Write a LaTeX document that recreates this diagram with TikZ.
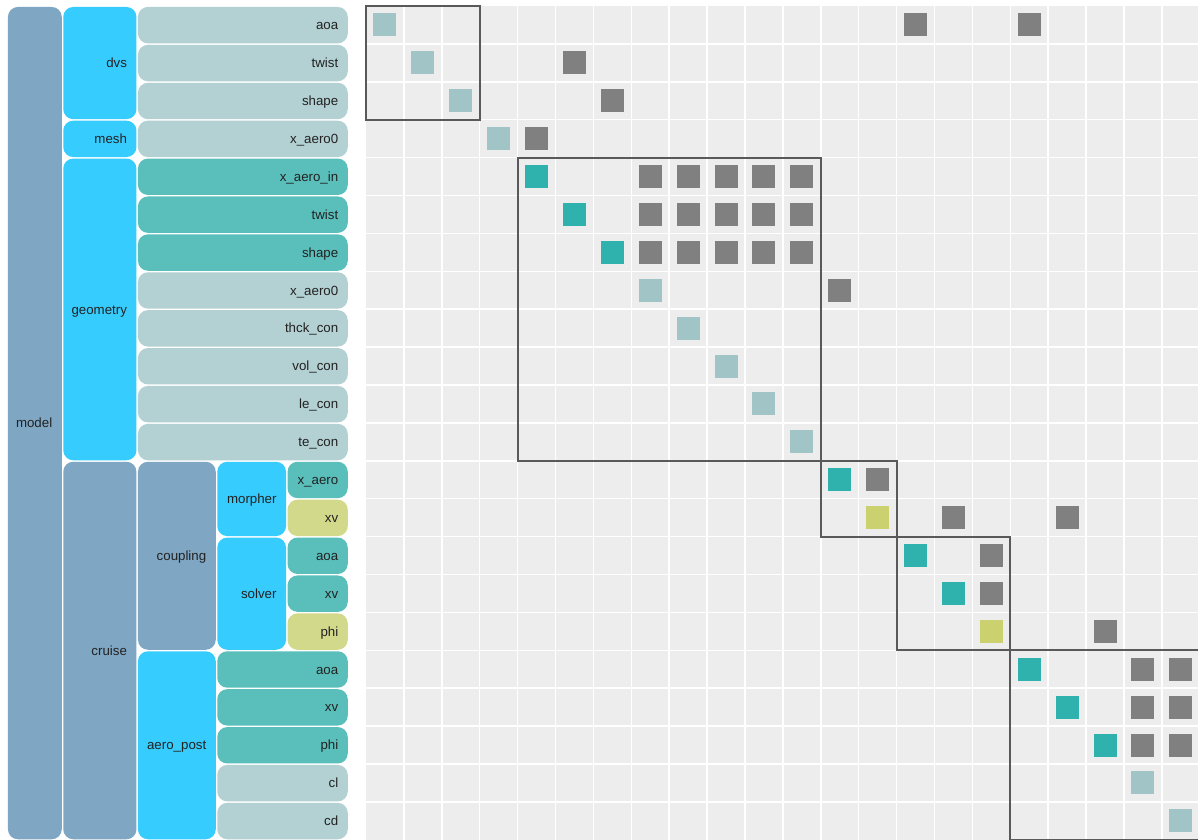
\documentclass[tikz,border=0pt]{standalone}
\usepackage{fontspec}
\setmainfont{Liberation Sans}
\definecolor{steel}{HTML}{7FA6C3}
\definecolor{cyanb}{HTML}{37CCFE}
\definecolor{leafl}{HTML}{B3D0D2}
\definecolor{leaft}{HTML}{5ABFBB}
\definecolor{leafy}{HTML}{D3D98B}
\definecolor{dgl}{HTML}{A1C5C7}
\definecolor{dgt}{HTML}{2FB2AE}
\definecolor{dgy}{HTML}{CAD16E}
\definecolor{conn}{HTML}{808080}
\definecolor{cellbg}{HTML}{EDEDED}
\definecolor{blkc}{HTML}{595959}
\definecolor{txt}{HTML}{222222}
\def\CZ{37.9}
\newcommand{\TreeBox}[7]{%
  \pgfmathsetmacro{\ya}{6+#4*\CZ+0.75}%
  \pgfmathsetmacro{\yb}{6+(#5+1)*\CZ-0.75}%
  \pgfmathsetmacro{\bw}{#3-#2-1.5}%
  \pgfmathsetmacro{\bh}{\yb-\ya}%
  \node[tb, fill=#6, minimum width=\bw pt, minimum height=\bh pt, anchor=north west] (#1) at (#2+0.75,\ya) {};
  \node[lbl] (#1-l) at ([xshift=-9.5pt,yshift=-4.6pt]#1.east) {#7};
}
\newcommand{\Sq}[3]{%
  \node[sq, fill=#3] (s#1-#2) at ({366+(#2+0.5)*\CZ},{6+(#1+0.5)*\CZ}) {};
}
\newcommand{\Blk}[2]{%
  \draw[blk] ({366+#1*\CZ},{6+#1*\CZ}) rectangle ({366+(#2+1)*\CZ},{6+(#2+1)*\CZ});
}
\begin{document}
\begin{tikzpicture}[x=1pt,y=-1pt,
  tb/.style={draw=none, rounded corners=10pt, inner sep=0pt},
  lbl/.style={anchor=base east, inner sep=0pt, text=txt, font=\fontsize{13.3}{16}\selectfont},
  sq/.style={minimum size=23pt, inner sep=0pt, draw=none},
  blk/.style={draw=blkc, line width=2.2pt}]
\useasboundingbox (0,0) rectangle (1198,839);
\fill[white] (0,0) rectangle (1198,839);
% ---------- tree ----------
\TreeBox{model}{7}{62.3}{0}{21}{steel}{model}
\TreeBox{dvs}{62.3}{137}{0}{2}{cyanb}{dvs}
\TreeBox{dvsaoa}{137}{348.3}{0}{0}{leafl}{aoa}
\TreeBox{dvstwist}{137}{348.3}{1}{1}{leafl}{twist}
\TreeBox{dvsshape}{137}{348.3}{2}{2}{leafl}{shape}
\TreeBox{mesh}{62.3}{137}{3}{3}{cyanb}{mesh}
\TreeBox{meshx}{137}{348.3}{3}{3}{leafl}{x\_aero0}
\TreeBox{geometry}{62.3}{137}{4}{11}{cyanb}{geometry}
\TreeBox{gxin}{137}{348.3}{4}{4}{leaft}{x\_aero\_in}
\TreeBox{gtwist}{137}{348.3}{5}{5}{leaft}{twist}
\TreeBox{gshape}{137}{348.3}{6}{6}{leaft}{shape}
\TreeBox{gx0}{137}{348.3}{7}{7}{leafl}{x\_aero0}
\TreeBox{gthck}{137}{348.3}{8}{8}{leafl}{thck\_con}
\TreeBox{gvol}{137}{348.3}{9}{9}{leafl}{vol\_con}
\TreeBox{gle}{137}{348.3}{10}{10}{leafl}{le\_con}
\TreeBox{gte}{137}{348.3}{11}{11}{leafl}{te\_con}
\TreeBox{cruise}{62.3}{137}{12}{21}{steel}{cruise}
\TreeBox{coupling}{137}{216.3}{12}{16}{steel}{coupling}
\TreeBox{morpher}{216.3}{286.6}{12}{13}{cyanb}{morpher}
\TreeBox{mx}{286.6}{348.3}{12}{12}{leaft}{x\_aero}
\TreeBox{mxv}{286.6}{348.3}{13}{13}{leafy}{xv}
\TreeBox{solver}{216.3}{286.6}{14}{16}{cyanb}{solver}
\TreeBox{saoa}{286.6}{348.3}{14}{14}{leaft}{aoa}
\TreeBox{sxv}{286.6}{348.3}{15}{15}{leaft}{xv}
\TreeBox{sphi}{286.6}{348.3}{16}{16}{leafy}{phi}
\TreeBox{aeropost}{137}{216.3}{17}{21}{cyanb}{aero\_post}
\TreeBox{aaoa}{216.3}{348.3}{17}{17}{leaft}{aoa}
\TreeBox{axv}{216.3}{348.3}{18}{18}{leaft}{xv}
\TreeBox{aphi}{216.3}{348.3}{19}{19}{leaft}{phi}
\TreeBox{acl}{216.3}{348.3}{20}{20}{leafl}{cl}
\TreeBox{acd}{216.3}{348.3}{21}{21}{leafl}{cd}
% ---------- matrix grid ----------
\fill[cellbg] (366,6) rectangle ({366+22*\CZ},{6+22*\CZ});
\foreach \i in {1,...,21}{
  \draw[white, line width=1.5pt] ({366+\i*\CZ},6) -- ({366+\i*\CZ},{6+22*\CZ});
  \draw[white, line width=1.5pt] (366,{6+\i*\CZ}) -- ({366+22*\CZ},{6+\i*\CZ});
}
% ---------- diagonal ----------
\foreach \i in {0,1,2,3,7,8,9,10,11,20,21}{\Sq{\i}{\i}{dgl}}
\foreach \i in {4,5,6,12,14,15,17,18,19}{\Sq{\i}{\i}{dgt}}
\foreach \i in {13,16}{\Sq{\i}{\i}{dgy}}
% ---------- connections ----------
\Sq{0}{14}{conn}\Sq{0}{17}{conn}
\Sq{1}{5}{conn}
\Sq{2}{6}{conn}
\Sq{3}{4}{conn}
\foreach \r in {4,5,6}{\foreach \c in {7,...,11}{\Sq{\r}{\c}{conn}}}
\Sq{7}{12}{conn}
\Sq{12}{13}{conn}
\Sq{13}{15}{conn}\Sq{13}{18}{conn}
\Sq{14}{16}{conn}
\Sq{15}{16}{conn}
\Sq{16}{19}{conn}
\foreach \r in {17,18,19}{\foreach \c in {20,21}{\Sq{\r}{\c}{conn}}}
% ---------- group blocks ----------
\Blk{0}{2}
\Blk{4}{11}
\Blk{12}{13}
\Blk{14}{16}
\Blk{17}{21}
\end{tikzpicture}
\end{document}
